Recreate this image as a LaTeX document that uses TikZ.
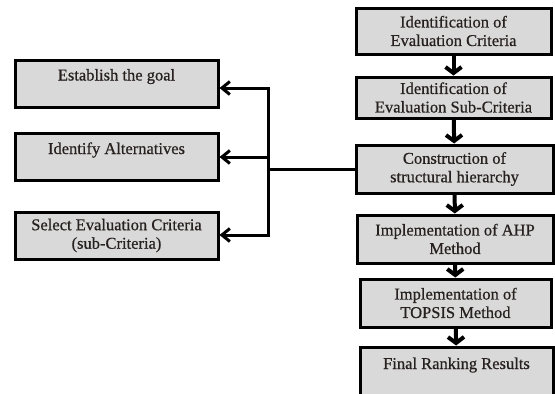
\documentclass[tikz,border=0pt]{standalone}
\usepackage{fontspec}
\setmainfont{Liberation Serif}
\newfontfamily\boxfont[FakeBold=0.6]{Liberation Serif}
\usetikzlibrary{positioning,arrows.meta,calc}
\definecolor{boxgray}{RGB}{217,217,217}
\definecolor{inkdark}{RGB}{38,32,30}

\begin{document}
\begin{tikzpicture}[x=1pt, y=-1pt,
  box/.style={draw, line width=3pt, fill=boxgray, text=inkdark, inner sep=0pt,
    font=\boxfont\fontsize{16.5}{18.5}\selectfont, align=center},
  lbox/.style={box, minimum width=203pt, minimum height=47pt},
  rbox/.style={box, minimum width=195pt, minimum height=47pt},
  toptext/.style={text height=11pt, text depth=17pt},
  down/.style={-{Straight Barb[length=6pt, width=16pt]}, line width=4pt},
  left/.style={-{Straight Barb[length=8pt, width=13pt]}, line width=3pt},
  wire/.style={line width=3pt}]
\useasboundingbox (0,0) rectangle (555,394);
% left column
\node[lbox, toptext] (goal) at (116.5,83.5) {Establish the goal};
\node[lbox, toptext] (alt) at (116.5,157) {Identify Alternatives};
\node[lbox] (sel) at (116.5,235.5) {Select Evaluation Criteria\\(sub-Criteria)};
% right column
\node[rbox, minimum height=46pt] (crit) at (453.5,31) {Identification of\\Evaluation Criteria};
\node[rbox, minimum height=41pt] (sub) at (453.5,97.5) {Identification of\\Evaluation Sub-Criteria};
\node[rbox, minimum width=197pt, minimum height=48pt] (hier) at (454.5,169) {Construction of\\structural hierarchy};
\node[rbox, minimum width=196pt, minimum height=48pt] (ahp) at (455,239) {Implementation of AHP\\Method};
\node[rbox, minimum width=191pt, minimum height=48pt] (top) at (455.5,303) {Implementation of\\TOPSIS Method};
\node[rbox, minimum width=193pt, minimum height=50pt, toptext] (rank) at (456.5,372) {Final Ranking Results};
% flow of the steps
\draw[down] (crit) -- (sub);
\draw[down] (sub) -- (hier);
\draw[down] (hier) -- (ahp);
\draw[down] (ahp) -- (top);
\draw[down] (top) -- (rank);
% branch to the left column
\coordinate (hubtop) at (268,88);
\coordinate (hubbot) at (268,235);
\draw[wire, line cap=rect] (hubtop) -- (hubbot);
\draw[wire] (hier.west) -- (hier.west -| hubtop);
\draw[left] (hubtop) -- (goal.east |- hubtop);
\draw[left] (alt.east -| hubtop) -- (alt.east);
\draw[left] (hubbot) -- (sel.east |- hubbot);
\end{tikzpicture}
\end{document}
